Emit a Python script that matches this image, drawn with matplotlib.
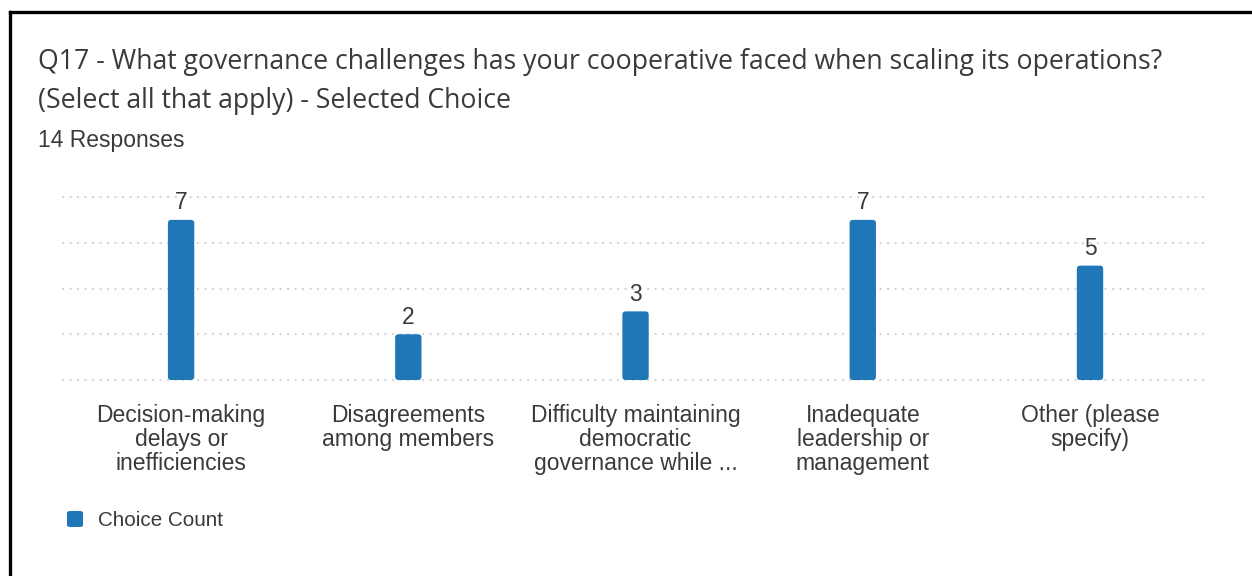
import matplotlib
matplotlib.use("Agg")
import matplotlib.pyplot as plt
from matplotlib.patches import FancyBboxPatch
from matplotlib.lines import Line2D

# survey results
categories = [
    "Decision-making\ndelays or\ninefficiencies",
    "Disagreements\namong members",
    "Difficulty maintaining\ndemocratic\ngovernance while ...",
    "Inadequate\nleadership or\nmanagement",
    "Other (please\nspecify)",
]
counts = [7, 2, 3, 7, 5]
y_ticks = [0, 2, 4, 6, 8]

title_lines = [
    "Q17 - What governance challenges has your cooperative faced when scaling its operations?",
    "(Select all that apply) - Selected Choice",
]
subtitle = "14 Responses"
legend_label = "Choice Count"

BAR_COLOR = "#1f77b8"
TEXT_COLOR = "#3a3a3a"
GRID_COLOR = "#d6d6d6"

W, H = 1252, 576
DPI = 100
fig = plt.figure(figsize=(W / DPI, H / DPI), dpi=DPI)
fig.patch.set_facecolor("white")


def px(x, y):
    """pixel coords (top-left origin) -> figure fraction"""
    return x / W, 1 - y / H


# frame: only the left and top edges fall inside the image
fig.add_artist(Line2D([10 / W, 10 / W], [0, 1 - 12 / H], color="black", lw=2.4,
                      transform=fig.transFigure, solid_capstyle="projecting"))
fig.add_artist(Line2D([10 / W, 1], [1 - 12 / H, 1 - 12 / H], color="black", lw=2.4,
                      transform=fig.transFigure, solid_capstyle="projecting"))

# header
for i, line in enumerate(title_lines):
    fig.text(*px(38, 62 + i * 39), line, family="Open Sans", fontsize=19.2,
             color=TEXT_COLOR, va="center", ha="left")
fig.text(*px(38, 141), subtitle, family="Liberation Sans", fontsize=16.5,
         color=TEXT_COLOR, va="center", ha="left")

# plot area (x-limits chosen so bars sit on 227 px centres)
left, right = 62, 1205
top, bottom = 197, 380
ax = fig.add_axes([left / W, 1 - bottom / H, (right - left) / W, (bottom - top) / H])
ax.set_xlim(-0.524, 4.506)
ax.set_ylim(0, 8)
ax.axis("off")

for yv in y_ticks:
    ax.axhline(yv, color=GRID_COLOR, lw=1.5, ls=(0, (1, 2.6)), zorder=0, clip_on=False)

bar_w = 0.116
for i, v in enumerate(counts):
    ax.add_patch(FancyBboxPatch((i - bar_w / 2, 0), bar_w, v,
                                boxstyle="round,pad=0,rounding_size=0.015",
                                mutation_aspect=8 / 183 * 227.25,
                                facecolor=BAR_COLOR, edgecolor="none", zorder=2))
    ax.annotate(str(v), (i, v), xytext=(0, 4), textcoords="offset points",
                ha="center", va="bottom", family="Liberation Sans",
                fontsize=16.4, color=TEXT_COLOR)

for i, label in enumerate(categories):
    ax.annotate(label, (i, 0), xytext=(0, -17), textcoords="offset points",
                ha="center", va="top", family="Liberation Sans", fontsize=16.5,
                color=TEXT_COLOR, linespacing=1.07)

# legend
fig.add_artist(FancyBboxPatch(px(67, 527), 16 / W, 16 / H,
                              boxstyle="round,pad=0,rounding_size=0.003",
                              transform=fig.transFigure, facecolor=BAR_COLOR,
                              edgecolor="none"))
fig.text(*px(98, 520), legend_label, family="Liberation Sans", fontsize=14.9,
         color=TEXT_COLOR, va="center", ha="left")

fig.savefig("out.png", dpi=DPI, facecolor="white")
